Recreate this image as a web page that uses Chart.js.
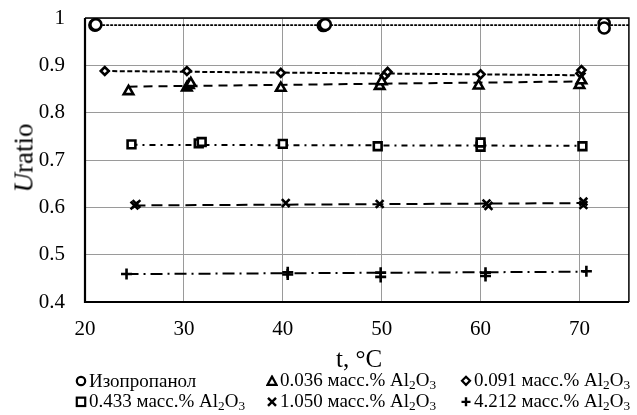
<!DOCTYPE html>
<html>
<head>
<meta charset="utf-8">
<script src="https://cdn.jsdelivr.net/npm/chart.js@4.4.1/dist/chart.umd.min.js"></script>
<style>
  html, body { margin:0; padding:0; background:#fff; }
  #wrap { position:relative; width:637px; height:415px; font-family:"Liberation Serif","Times New Roman",serif; color:#000; overflow:hidden; }
  canvas { position:absolute; left:0; top:0; }
  .ytitle { position:absolute; left:24px; top:158px; transform:translate(-50%,-50%) rotate(-90deg); font-size:27px; white-space:nowrap; }
  .xtitle { position:absolute; left:359px; top:359px; transform:translate(-50%,-50%); font-size:25px; white-space:nowrap; }
  .lg { position:absolute; font-size:19px; white-space:nowrap; transform:translateY(-50%); display:flex; align-items:center; }
  .lg svg { margin-right:2px; }
</style>
</head>
<body>
<div id="wrap">
  <canvas id="c" width="637" height="415"></canvas>
  <div class="ytitle"><i>U</i>ratio</div>
  <div class="xtitle">t, °C</div>
  <div id="legend"></div>
</div>
<script>
// ---- Data ----
const seriesNames = ["Изопропанол", "0.036 масс.% Al₂O₃", "0.091 масс.% Al₂O₃",
                     "0.433 масс.% Al₂O₃", "1.050 масс.% Al₂O₃", "4.212 масс.% Al₂O₃"];

const isoX  = [21, 21.1, 44.1, 44.3, 72.5, 72.5];
const isoY  = [0.985, 0.986, 0.984, 0.986, 0.989, 0.979];
const isoTrendX = [21, 75];
const isoTrendY = [0.985, 0.985];

const triX  = [24.4, 30.3, 30.5, 30.7, 39.8, 49.8, 50.0, 59.8, 70.0, 70.2];
const triY  = [0.845, 0.853, 0.858, 0.862, 0.852, 0.856, 0.866, 0.857, 0.858, 0.868];
const triTrendX = [24.4, 70.2];
const triTrendY = [0.855, 0.866];

const diaX  = [22.0, 30.3, 39.8, 50.3, 50.6, 60.0, 70.1, 70.2];
const diaY  = [0.888, 0.888, 0.884, 0.878, 0.886, 0.881, 0.883, 0.890];
const diaTrendX = [22.0, 70.2];
const diaTrendY = [0.888, 0.879];

const sqX   = [24.7, 31.5, 31.8, 40.0, 49.6, 60.0, 60.0, 70.3];
const sqY   = [0.733, 0.735, 0.738, 0.734, 0.729, 0.728, 0.737, 0.729];
const sqTrendX = [24.7, 70.3];
const sqTrendY = [0.732, 0.730];

const crX   = [25.0, 25.2, 40.3, 49.8, 60.8, 60.6, 70.4, 70.4];
const crY   = [0.604, 0.607, 0.609, 0.607, 0.603, 0.608, 0.605, 0.612];
const crTrendX = [25.0, 70.4];
const crTrendY = [0.604, 0.609];

const plX   = [24.2, 40.5, 40.5, 49.9, 49.9, 60.5, 60.5, 70.7];
const plY   = [0.459, 0.463, 0.458, 0.462, 0.453, 0.462, 0.455, 0.465];
const plTrendX = [24.2, 70.7];
const plTrendY = [0.459, 0.464];

const xTicks = [20, 30, 40, 50, 60, 70];
const yTicks = [0.4, 0.5, 0.6, 0.7, 0.8, 0.9, 1];

// ---- build ----
const zip = (xs, ys) => xs.map((x, i) => ({x, y: ys[i]}));
const styles = [
  {ps:'circle',   r:5.5, dash:[1.5,2.5], lw:1.8, cap:'round'},
  {ps:'triangle', r:5.5, dash:[9,6],     lw:2,   cap:'butt'},
  {ps:'rectRot',  r:4,   dash:[5,2.5],   lw:2,   cap:'butt'},
  {ps:'rect',     r:5.5, dash:[6,5,2,5], lw:2,   cap:'butt'},
  {ps:'crossRot', r:5.5, dash:[11,6],    lw:2,   cap:'butt'},
  {ps:'cross',    r:5.5, dash:[12,5,2,5],lw:2,   cap:'butt'}
];
const pts = [[isoX,isoY],[triX,triY],[diaX,diaY],[sqX,sqY],[crX,crY],[plX,plY]];
const trends = [[isoTrendX,isoTrendY],[triTrendX,triTrendY],[diaTrendX,diaTrendY],
                [sqTrendX,sqTrendY],[crTrendX,crTrendY],[plTrendX,plTrendY]];

const datasets = [];
trends.forEach((t, i) => {
  const s = styles[i];
  datasets.push({
    label: seriesNames[i] + ' trend', data: zip(t[0], t[1]), showLine: true,
    borderColor: '#000', borderWidth: s.lw, borderDash: s.dash, borderCapStyle: s.cap,
    pointRadius: 0, fill: false, order: 2
  });
});
pts.forEach((p, i) => {
  const s = styles[i];
  datasets.push({
    label: seriesNames[i], data: zip(p[0], p[1]), showLine: false,
    pointStyle: s.ps, pointRadius: s.r, pointBorderWidth: 2.6,
    pointBorderColor: '#000', pointBackgroundColor: '#fff', order: 1
  });
});

const frame = {
  id: 'frame',
  afterDatasetsDraw(chart) {
    const a = chart.chartArea, ctx = chart.ctx;
    ctx.save();
    ctx.strokeStyle = '#000';
    ctx.lineWidth = 1.5;
    ctx.beginPath();
    ctx.moveTo(a.left, a.top); ctx.lineTo(a.right, a.top); ctx.lineTo(a.right, a.bottom);
    ctx.stroke();
    ctx.lineWidth = 2.2;
    ctx.beginPath();
    ctx.moveTo(a.left, a.top); ctx.lineTo(a.left, a.bottom); ctx.lineTo(a.right, a.bottom);
    ctx.stroke();
    ctx.restore();
  }
};

const tickFont = {family: '"Liberation Serif","Times New Roman",serif', size: 21};

new Chart(document.getElementById('c'), {
  type: 'scatter',
  data: { datasets },
  plugins: [frame],
  options: {
    responsive: false, animation: false, devicePixelRatio: 1,
    layout: { padding: {left: 0, right: 4, top: 18, bottom: 0} },
    plugins: { legend: {display: false}, tooltip: {enabled: false} },
    scales: {
      x: {
        type: 'linear', min: 20, max: 75,
        afterBuildTicks: sc => { sc.ticks = xTicks.map(v => ({value: v})); },
        afterFit: sc => { sc.height = 113; },
        ticks: { color: '#000', font: tickFont, padding: 0, maxRotation: 0 },
        grid: { color: '#9a9a9a', lineWidth: 1, drawTicks: true, tickLength: 15, tickColor: 'rgba(0,0,0,0)' },
        border: { display: false }
      },
      y: {
        type: 'linear', min: 0.4, max: 1,
        afterBuildTicks: sc => { sc.ticks = yTicks.map(v => ({value: v})); },
        afterFit: sc => { sc.width = 85; },
        ticks: { color: '#000', font: tickFont, padding: 0,
                 callback: v => String(Math.round(v * 10) / 10) },
        grid: { color: '#9a9a9a', lineWidth: 1, drawTicks: true, tickLength: 20, tickColor: 'rgba(0,0,0,0)' },
        border: { display: false }
      }
    }
  }
});

// ---- HTML legend ----
const svgs = {
  circle:   '<circle cx="6" cy="6" r="4.2" fill="#fff" stroke="#000" stroke-width="2.2"/>',
  triangle: '<polygon points="6,1.8 10.5,10 1.5,10" fill="#fff" stroke="#000" stroke-width="2.2"/>',
  rectRot:  '<polygon points="6,2 10,6 6,10 2,6" fill="#fff" stroke="#000" stroke-width="2.2"/>',
  rect:     '<rect x="1.8" y="1.8" width="8.4" height="8.4" fill="#fff" stroke="#000" stroke-width="2.2"/>',
  crossRot: '<path d="M2,2 L10,10 M10,2 L2,10" stroke="#000" stroke-width="2.4"/>',
  cross:    '<path d="M6,1.5 L6,10.5 M1.5,6 L10.5,6" stroke="#000" stroke-width="2.4"/>'
};
const legX = [75, 266, 460];
const legY = [381, 402];
const lg = document.getElementById('legend');
seriesNames.forEach((n, i) => {
  const d = document.createElement('div');
  d.className = 'lg';
  d.style.left = legX[i % 3] + 'px';
  d.style.top = legY[Math.floor(i / 3)] + 'px';
  const label = n.replace('Al₂O₃', 'Al<sub style="font-size:0.7em;vertical-align:-0.25em">2</sub>O<sub style="font-size:0.7em;vertical-align:-0.25em">3</sub>');
  d.innerHTML = '<svg width="12" height="12" viewBox="0 0 12 12">' + svgs[styles[i].ps] + '</svg><span>' + label + '</span>';
  lg.appendChild(d);
});
</script>
</body>
</html>
